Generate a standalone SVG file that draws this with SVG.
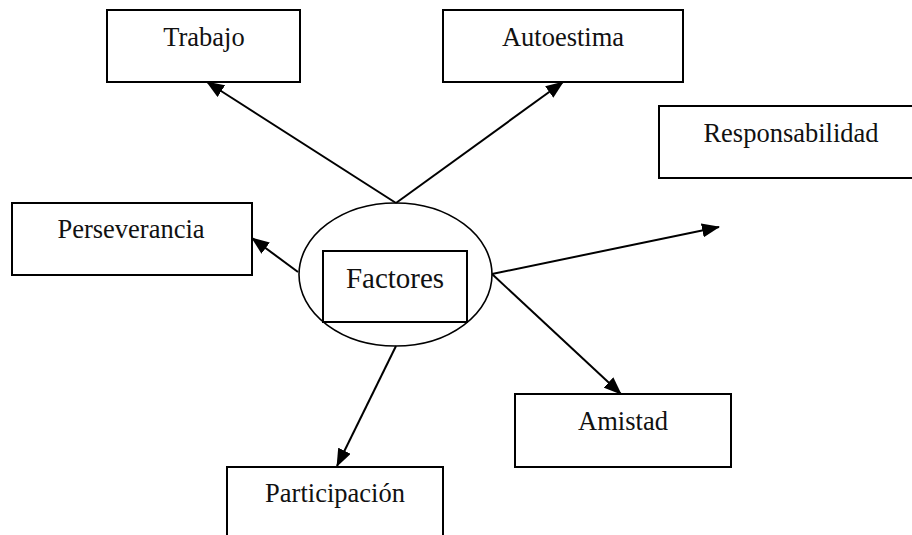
<svg xmlns="http://www.w3.org/2000/svg" width="912" height="535" viewBox="0 0 912 535">
<style>
.box{fill:#fff;stroke:#000;stroke-width:2}
.lbl{font-size:26.5px;fill:#111;text-anchor:middle}
.big{font-size:29px}
.conn{stroke:#000;stroke-width:2;fill:none;marker-end:url(#ah)}
</style>
<defs>
<marker id="ah" markerUnits="userSpaceOnUse" markerWidth="18" markerHeight="14" viewBox="0 0 18 14" refX="17" refY="7" orient="auto">
<path d="M0,0 L18,7 L0,14 Z" fill="#000"/>
</marker>
</defs>
<rect width="912" height="535" fill="#fff"/>
<g font-family="'Liberation Serif', 'Times New Roman', 'DejaVu Serif', serif">
<g id="trabajo"><rect class="box" x="107" y="10" width="193" height="72"/><text class="lbl" x="204" y="46">Trabajo</text></g>
<g id="autoestima"><rect class="box" x="443" y="10" width="240" height="72"/><text class="lbl" x="563" y="46">Autoestima</text></g>
<g id="responsabilidad"><rect class="box" x="659" y="106" width="264" height="72"/><text class="lbl" x="791" y="142">Responsabilidad</text></g>
<g id="perseverancia"><rect class="box" x="12" y="203" width="240" height="72"/><text class="lbl" x="131" y="238">Perseverancia</text></g>
<g id="factores"><ellipse cx="395.5" cy="274.5" rx="96.5" ry="71.5" fill="#fff" stroke="#000" stroke-width="1.6"/><rect class="box" x="323" y="251" width="144" height="71"/><text class="lbl big" x="395" y="288">Factores</text></g>
<g id="amistad"><rect class="box" x="515" y="394" width="216" height="73"/><text class="lbl" x="623" y="430">Amistad</text></g>
<g id="participacion"><rect class="box" x="227" y="467" width="216" height="80"/><text class="lbl" x="335" y="502">Participación</text></g>
</g>
<g id="connectors">
<line class="conn" x1="396" y1="203" x2="207" y2="82"/>
<line class="conn" x1="396" y1="203" x2="563" y2="82"/>
<line class="conn" x1="298" y1="272" x2="252" y2="238"/>
<line class="conn" x1="492" y1="274" x2="719" y2="227"/>
<line class="conn" x1="492" y1="274" x2="621" y2="394"/>
<line class="conn" x1="396" y1="346" x2="337" y2="466"/>
</g>
</svg>
